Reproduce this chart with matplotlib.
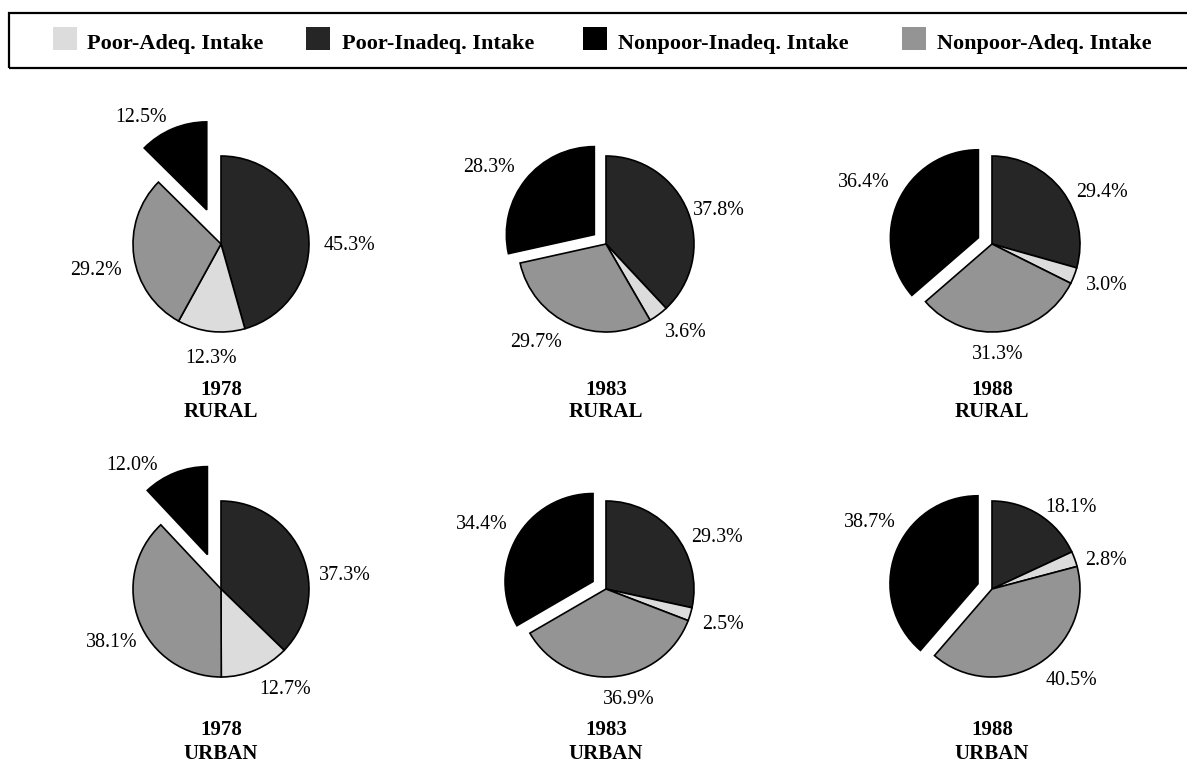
import matplotlib
matplotlib.use("Agg")
import matplotlib.pyplot as plt
from matplotlib.patches import Rectangle

# Shares of households (%) by poverty status and calorie intake adequacy
categories = ["Poor-Inadeq. Intake", "Poor-Adeq. Intake",
              "Nonpoor-Adeq. Intake", "Nonpoor-Inadeq. Intake"]
legend_order = ["Poor-Adeq. Intake", "Poor-Inadeq. Intake",
                "Nonpoor-Inadeq. Intake", "Nonpoor-Adeq. Intake"]
years = ["1978", "1983", "1988"]
areas = ["RURAL", "URBAN"]

rural_1978 = [45.3, 12.3, 29.2, 12.5]
rural_1983 = [37.8, 3.6, 29.7, 28.3]
rural_1988 = [29.4, 3.0, 31.3, 36.4]
urban_1978 = [37.3, 12.7, 38.1, 12.0]
urban_1983 = [29.3, 2.5, 36.9, 34.4]
urban_1988 = [18.1, 2.8, 40.5, 38.7]

series = [[rural_1978, rural_1983, rural_1988],
          [urban_1978, urban_1983, urban_1988]]

# ---- styling / layout (pixel units, y measured from the top) ----
W, H = 1187, 762
colors = {"Poor-Inadeq. Intake": "#262626",
          "Poor-Adeq. Intake": "#dcdcdc",
          "Nonpoor-Adeq. Intake": "#949494",
          "Nonpoor-Inadeq. Intake": "#000000"}
col_x = [221, 606, 992]
row_y = [244, 589]
radius = 88
# pull-out of the last wedge, as a fraction of the radius
explode_by_year = {"1978": 0.42, "1983": 0.17, "1988": 0.17}
title_y = [(395, 417), (735, 759)]

# label centre offsets from the pie centre, one per wedge
label_offsets = [
    [[(128, -1), (-10, 112), (-125, 24), (-80, -129)],
     [(113, -36), (80, 86), (-70, 96), (-117, -79)],
     [(110, -54), (115, 39), (6, 108), (-128, -64)]],
    [[(124, -16), (64, 98), (-109, 51), (-89, -126)],
     [(111, -54), (117, 33), (23, 108), (-124, -67)],
     [(79, -84), (114, -31), (79, 89), (-122, -69)]],
]

serif = ["Liberation Serif", "DejaVu Serif"]
plt.rcParams["font.family"] = serif

fig = plt.figure(figsize=(W / 100, H / 100), dpi=100)
ax = fig.add_axes([0, 0, 1, 1])


def Y(y):
    return H - y


for r, area in enumerate(areas):
    for c, year in enumerate(years):
        vals = series[r][c]
        cx, cy = col_x[c], row_y[r]
        # pie() applies explode in data units, so scale by the radius
        explode = [0, 0, 0, explode_by_year[year] * radius]
        ax.pie(vals, colors=[colors[k] for k in categories],
               startangle=90, counterclock=False, explode=explode,
               radius=radius, center=(cx, Y(cy)),
               wedgeprops=dict(edgecolor="black", linewidth=1.2,
                               joinstyle="miter"))
        for v, (dx, dy) in zip(vals, label_offsets[r][c]):
            ax.text(cx + dx, Y(cy + dy + 7), f"{v:.1f}%", ha="center",
                    va="baseline", fontsize=14.4)
        ax.text(cx, Y(title_y[r][0]), year, ha="center", va="baseline",
                fontsize=15, fontweight="bold")
        ax.text(cx, Y(title_y[r][1]), area, ha="center", va="baseline",
                fontsize=15, fontweight="bold")

# legend box across the top
ax.add_patch(Rectangle((9, Y(68)), W + 20, 55, facecolor="none",
                       edgecolor="black", linewidth=1.6, clip_on=False))
swatch_x = [53, 306, 583, 902]
text_x = [87, 342, 618, 937]
for name, sx, tx in zip(legend_order, swatch_x, text_x):
    ax.add_patch(Rectangle((sx, Y(50)), 24, 23, facecolor=colors[name],
                           edgecolor="none"))
    ax.text(tx, Y(49), name, ha="left", va="baseline", fontsize=16,
            fontweight="bold")

ax.set_xlim(0, W)
ax.set_ylim(0, H)
ax.set_aspect("equal", adjustable="box")
ax.axis("off")

fig.savefig("out.png", dpi=100, facecolor="white")
